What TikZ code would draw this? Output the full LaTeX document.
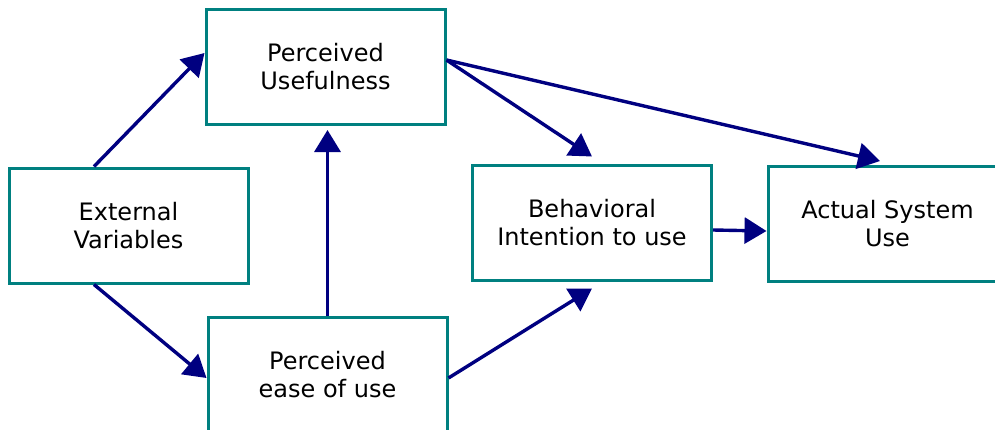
\documentclass[tikz,border=0pt]{standalone}
\usepackage{fontspec}
\setmainfont{DejaVu Sans}
\usetikzlibrary{arrows.meta}
\definecolor{boxteal}{RGB}{0,128,128}
\definecolor{linknavy}{RGB}{0,0,128}

\begin{document}
\begin{tikzpicture}[x=1pt,y=-1pt,
    box/.style={rectangle,draw=boxteal,line width=3pt,minimum width=239pt,minimum height=115pt,
      align=center,font=\fontsize{24}{28}\selectfont},
    link/.style={draw=linknavy,line width=3.4pt,-{Triangle[length=22pt,width=26pt]}}]
                \useasboundingbox (0,0) rectangle (995,429);
                \path (128.5,225.5) node[box] (EV) {External\\Variables};
                \path (325.5,67) node[box] (PU) {Perceived\\Usefulness};
                \path (327.5,375) node[box] (PE) {Perceived\\ease of use};
                \path (592,222.5) node[box] (BI) {Behavioral\\Intention to use};
                \path (887.5,224) node[box] (AU) {Actual System\\Use};

                \begin{scope}[every path/.append style={link}]
                  \draw ([xshift=-34.5pt]EV.north) -- ([yshift=14pt]PU.west);
                  \draw ([xshift=-34.5pt]EV.south) -- ([yshift=-3pt]PE.west);
                  \draw (PE.north) -- ([yshift=-4pt]PE.north |- PU.south);
                  \draw ([yshift=7pt]PU.east) -- ([yshift=7pt]BI.north);
                  \draw ([yshift=7pt]PU.east) -- ([xshift=-7.5pt,yshift=4pt]AU.north);
                  \draw ([yshift=-3pt]PE.east) -- ([yshift=-7pt]BI.south);
                  \draw ([yshift=-7.5pt]BI.east) -- ([yshift=-7pt]AU.west);
                \end{scope}
              \end{tikzpicture}
\end{document}
